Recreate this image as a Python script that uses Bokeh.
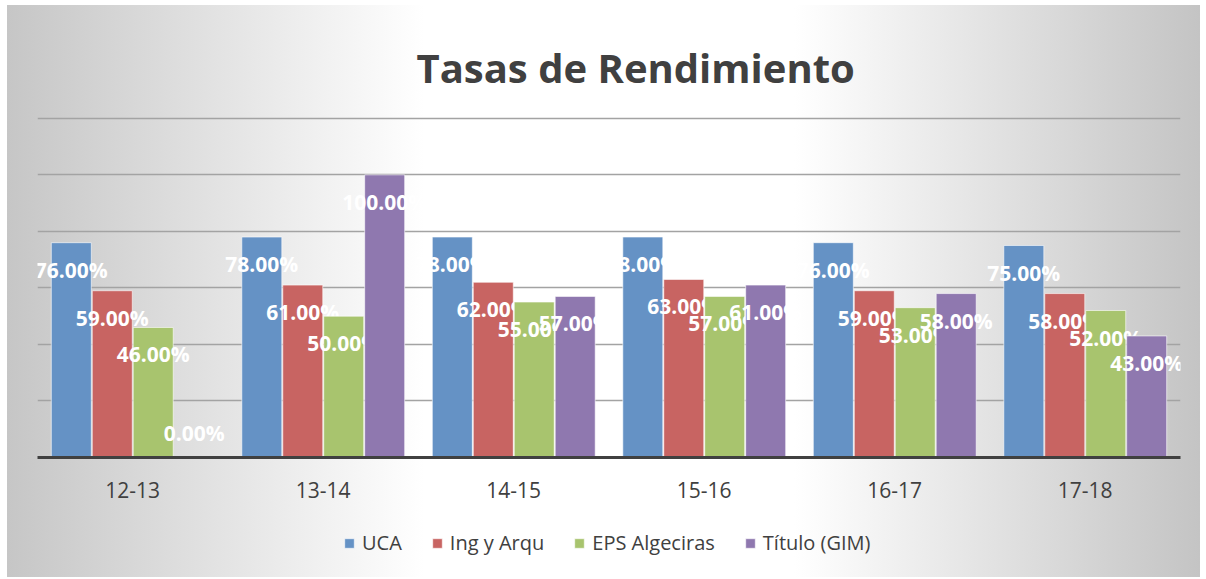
from bokeh.plotting import figure
from bokeh.layouts import column
from bokeh.models import ColumnDataSource, Legend, LegendItem, FixedTicker, Title, FactorRange
from bokeh.transform import dodge
from bokeh.core.properties import value
from bokeh.embed import file_html
from bokeh.resources import INLINE

# ---- data ----
cursos = ["12-13", "13-14", "14-15", "15-16", "16-17", "17-18"]
series = ["UCA", "Ing y Arqu", "EPS Algeciras", "Título (GIM)"]
uca = [76, 78, 78, 78, 76, 75]
ing_arqu = [59, 61, 62, 63, 59, 58]
eps_algeciras = [46, 50, 55, 57, 53, 52]
titulo_gim = [0, 100, 57, 61, 58, 43]
titulo = "Tasas de Rendimiento"

colors = ["#6592C5", "#C86462", "#A8C46E", "#8F78AF"]
offsets = [-0.3225, -0.1075, 0.1075, 0.3225]
values_all = [uca, ing_arqu, eps_algeciras, titulo_gim]

W, H_MAIN, H_LEG = 1206, 515, 64
GRAD = "linear-gradient(to right, #c6c6c6 0%, #ffffff 35%, #ffffff 66%, #c4c4c4 100%)"


def bg(top):
    return {"background-color": "#ffffff", "background-image": GRAD,
            "background-repeat": "no-repeat",
            "background-position": f"7px {top}px",
            "background-size": "1193px 572px"}


p = figure(x_range=cursos, y_range=(0, 121), width=W, height=H_MAIN,
           output_backend="svg", toolbar_location=None,
           min_border_left=37, min_border_right=26, min_border_top=115,
           min_border_bottom=58)
p.styles = bg(5)
p.border_fill_color = None
p.background_fill_color = None
p.outline_line_color = None

p.title = Title(text=titulo, align="left", offset=379, standoff=41,
                text_font="Open Sans", text_font_style="bold",
                text_font_size="40px", text_color="#404040")

p.yaxis.visible = False
p.xgrid.visible = False
p.ygrid.ticker = FixedTicker(ticks=[20, 40, 60, 80, 100, 120])
p.ygrid.grid_line_color = "#a3a3a3"
p.ygrid.grid_line_width = 1.5

ax = p.xaxis[0]
ax.axis_line_color = "#404040"
ax.axis_line_width = 3
ax.major_tick_line_color = None
ax.minor_tick_line_color = None
ax.major_label_text_font = "Open Sans"
ax.major_label_text_font_size = "21px"
ax.major_label_text_color = "#404040"
ax.major_label_standoff = 18

# legend lives in its own strip below the chart; its bars fall outside the
# strip's y range, so only the legend keys are seen
lg = figure(width=W, height=H_LEG, x_range=FactorRange(*cursos), y_range=(200, 201),
            output_backend="svg", toolbar_location=None,
            min_border=0, min_border_left=0, min_border_right=0,
            min_border_top=0, min_border_bottom=0)
lg.styles = bg(5 - H_MAIN)
lg.border_fill_color = None
lg.background_fill_color = None
lg.outline_line_color = None
lg.axis.visible = False
lg.grid.visible = False

items = []
for name, vals, col, off in zip(series, values_all, colors, offsets):
    src = ColumnDataSource(dict(
        x=cursos, top=vals,
        label=[f"{v:.2f}%" for v in vals],
        yoff=[27 if v > 0 else -25 for v in vals],
    ))
    p.vbar(x=dodge("x", off, range=p.x_range), top="top", width=0.21, source=src,
           fill_color=col, line_color="#ffffff", line_alpha=0.6, line_width=1)
    p.text(x=dodge("x", off, range=p.x_range), y="top", text="label", source=src,
           y_offset="yoff", text_align="center", text_baseline="middle",
           text_font=value("Open Sans"), text_font_style="bold",
           text_font_size="21px", text_color="#ffffff")
    r = lg.vbar(x=dodge("x", off, range=lg.x_range), top="top", width=0.21, source=src,
                fill_color=col, line_color="#ffffff", line_alpha=0.6, line_width=1)
    items.append(LegendItem(label=name, renderers=[r]))

legend = Legend(items=items, orientation="horizontal", location=(306, 23),
                glyph_width=12, glyph_height=12, label_standoff=7, spacing=29,
                label_text_font="Open Sans", label_text_font_size="20px",
                label_text_color="#404040", background_fill_alpha=0,
                border_line_color=None, padding=0, margin=0)
lg.add_layout(legend)

layout = column(p, lg, spacing=0)
open("out.html", "w").write(file_html(layout, INLINE))
